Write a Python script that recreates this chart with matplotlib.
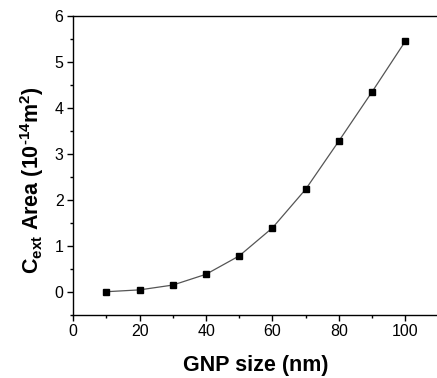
import matplotlib
matplotlib.use("Agg")
import matplotlib.pyplot as plt
from matplotlib.ticker import MultipleLocator

gnp_size = [10, 20, 30, 40, 50, 60, 70, 80, 90, 100]
c_ext = [0.0, 0.04, 0.145, 0.38, 0.78, 1.39, 2.23, 3.28, 4.35, 5.45]

plt.rcParams['font.family'] = ['Liberation Sans', 'DejaVu Sans']
plt.rcParams['mathtext.fontset'] = 'custom'
plt.rcParams['mathtext.rm'] = 'Liberation Sans:bold'
plt.rcParams['mathtext.it'] = 'Liberation Sans:bold'
plt.rcParams['mathtext.bf'] = 'Liberation Sans:bold'
plt.rcParams['mathtext.default'] = 'rm'

fig = plt.figure(figsize=(4.37, 3.78), dpi=100)
ax = fig.add_axes([0.1677, 0.1675, 0.8357, 0.7902])

ax.plot(gnp_size, c_ext, color='#555555', linewidth=0.9, marker='s',
        markersize=4.3, markerfacecolor='black', markeredgecolor='black')

ax.set_xlim(0, 110)
ax.set_ylim(-0.5, 6)
ax.xaxis.set_major_locator(MultipleLocator(20))
ax.xaxis.set_minor_locator(MultipleLocator(10))
ax.yaxis.set_major_locator(MultipleLocator(1))
ax.yaxis.set_minor_locator(MultipleLocator(0.5))
ax.tick_params(which='major', direction='out', length=4, width=1, labelsize=11.5, pad=3)
ax.tick_params(which='minor', direction='out', length=2.5, width=1)
for s in ax.spines.values():
    s.set_linewidth(1.0)

ax.set_xlabel('GNP size (nm)', fontsize=15.5, fontweight='bold')
ax.set_ylabel('C$_{ext}$ Area (10$^{\u2010' + '14}$m$^{2}$)', fontsize=15.5, fontweight='bold')
ax.xaxis.set_label_coords(0.5, -0.135)
ax.yaxis.set_label_coords(-0.075, 0.45)

fig.savefig('out.png', dpi=100)
